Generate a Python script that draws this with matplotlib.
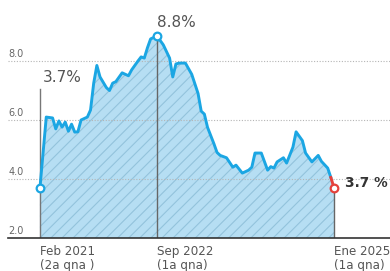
import matplotlib
matplotlib.use("Agg")
import matplotlib.pyplot as plt

# fortnight index (0 = Feb 2021 2a qna) and inflation value (%)
idx = [0, 2, 4, 5, 6, 7, 8, 9, 10, 11, 12, 13, 15, 16, 17, 18, 19, 21, 22, 23, 24,
       26, 28, 29, 31, 32, 33, 34, 35, 37, 38, 39, 41, 42, 43, 44, 46, 48, 50, 51,
       52, 53, 55, 56, 57, 59, 61, 62, 64, 66, 67, 68, 70, 72, 73, 74, 75, 77, 78,
       80, 81, 83, 84, 86, 88, 89, 91, 92, 93]
vals = [3.7, 6.1, 6.07, 5.7, 5.97, 5.76, 5.93, 5.62, 5.86, 5.59, 5.6, 6.0, 6.1, 6.34,
        7.25, 7.85, 7.46, 7.1, 7.0, 7.25, 7.3, 7.6, 7.5, 7.7, 8.0, 8.14, 8.1, 8.45,
        8.75, 8.85, 8.7, 8.55, 8.1, 7.46, 7.9, 7.93, 7.93, 7.55, 6.9, 6.3, 6.2, 5.75,
        5.2, 4.9, 4.8, 4.72, 4.4, 4.47, 4.2, 4.3, 4.4, 4.88, 4.88, 4.3, 4.42, 4.37,
        4.58, 4.72, 4.54, 5.08, 5.6, 5.3, 4.88, 4.58, 4.8, 4.6, 4.37, 4.05, 3.7]

yticks = [2.0, 4.0, 6.0, 8.0]
xlab_pos = [0, 37, 93]
xlab = ["Feb 2021\n(2a qna )", "Sep 2022\n(1a qna)", "Ene 2025\n(1a qna)"]
start_label = "3.7%"
peak_label = "8.8%"
end_label = "3.7 %"

plt.rcParams['hatch.linewidth'] = 0.8
fig = plt.figure(figsize=(3.9, 2.71), dpi=100)
ax = fig.add_axes([8/390, 33/271, 382/390, 228/271])
ax.set_xlim(-10.1, 110.7)
ax.set_ylim(2.0, 9.73)

blue = "#1ba6e3"
red = "#e5423c"
gray = "#555555"

ax.fill_between(idx, 2.0, vals, facecolor="#b6def3", edgecolor="#93c3dc",
                hatch="///", linewidth=0, zorder=1)
for t in yticks[1:]:
    ax.axhline(t, color="#b5b5b5", ls=(0, (1, 1.5)), lw=0.8, zorder=2)

# vertical guide lines
ax.plot([idx[0], idx[0]], [2.0, 7.05], color="#777777", lw=1.0, zorder=2)
pk = idx.index(37)
ax.plot([idx[pk], idx[pk]], [2.0, vals[pk]], color="#666666", lw=1.0, zorder=2)
ax.plot([idx[-1], idx[-1]], [2.0, vals[-1]], color="#666666", lw=1.0, zorder=2)

ax.plot(idx[:-1], vals[:-1], color=blue, lw=2.1, zorder=3, solid_joinstyle="round")
ax.plot(idx[-2:], vals[-2:], color=red, lw=2.1, zorder=3)

ax.plot([idx[0]], [vals[0]], 'o', ms=5.5, mfc="white", mec=blue, mew=1.6, zorder=4)
ax.plot([idx[pk]], [vals[pk]], 'o', ms=5.5, mfc="white", mec=blue, mew=1.6, zorder=4)
ax.plot([idx[-1]], [vals[-1]], 'o', ms=5.5, mfc="white", mec=red, mew=1.6, zorder=4)

for s in ["top", "right", "left"]:
    ax.spines[s].set_visible(False)
ax.spines["bottom"].set_color("#333333")
ax.spines["bottom"].set_linewidth(1.2)
ax.set_yticks([])
ax.set_xticks([])

for t in yticks:
    ax.text(-10.0, t + 0.08, f"{t:.1f}", fontsize=7, color="#666666", ha="left", va="bottom")

for p, l in zip(xlab_pos, xlab):
    ax.text(p, 1.76, l, fontsize=8.6, color=gray, ha="left", va="top", linespacing=1.12)

ax.text(0.8, 7.2, start_label, fontsize=11, color=gray, ha="left", va="bottom")
ax.text(37, 9.05, peak_label, fontsize=11, color=gray, ha="left", va="bottom")
ax.text(96.5, 3.85, end_label, fontsize=9.8, color="#333333", ha="left", va="center", fontweight="bold")

for t in ax.texts:
    t.set_clip_on(False)

fig.savefig("out.png", dpi=100)
